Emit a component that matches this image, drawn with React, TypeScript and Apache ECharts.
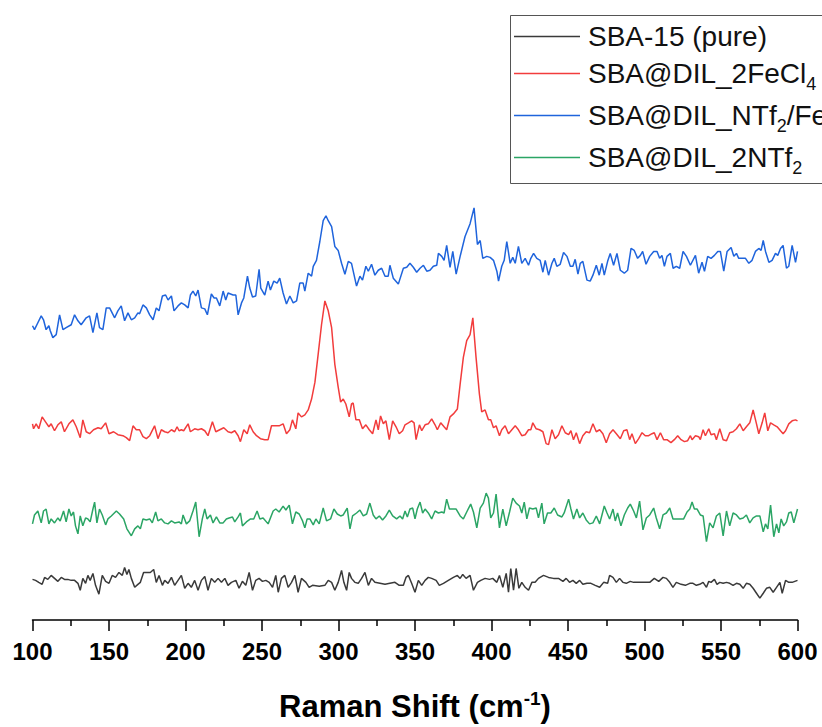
import React, { useEffect, useRef } from "react";
import * as echarts from "echarts";

const FONT = "'Liberation Sans', Arial, Helvetica, sans-serif";

const seriesNames = ["SBA-15 (pure)", "SBA@DIL_2FeCl4", "SBA@DIL_NTf2/FeCl4", "SBA@DIL_2NTf2"];
const legendLabels = [
  "{n|SBA-15 (pure)}",
  "{n|SBA@DIL_2FeCl}{s|4}",
  "{n|SBA@DIL_NTf}{s|2}{n|/FeCl}{s|4}",
  "{n|SBA@DIL_2NTf}{s|2}",
];
const seriesColors = ["#3a3a3a", "#f23c3c", "#1f64dc", "#2ba565"];

const xTicks = { min: 100, max: 600, step: 50 };

// Raman intensities (arbitrary units, stacked offsets) : [shift cm-1, intensity]
const pureSBA: number[][] = [
  [100,41],[102,40],[104.1,38],[106.3,36],[107.9,43],[110,41],[112.2,45],[114.4,42],[116.6,39],[118.8,43],[120.9,41],[123.1,41],[125.3,40],[127.5,40],[129.7,37],[131.2,30],[132.9,42],[134.7,37],[136.2,45],[137.7,40],[139.5,47],[141.2,35],[143.4,26],[145.6,45],[147.8,39],[150,37],[152.1,45],[154.3,43],[156.5,48],[158.7,45],[160.2,53],[161.7,46],[163,51],[164.6,42],[166.8,33],[168.9,36],[170.5,38],[172.6,48],[174.8,48],[177,48],[179.2,51],[180.9,38],[182.7,45],[184.9,35],[186.4,40],[188.6,37],[190.8,43],[192.9,35],[195.1,40],[197.3,45],[199.5,32],[201.7,37],[203.8,33],[206,40],[208.2,30],[210.4,40],[212.6,44],[214.7,30],[216.9,42],[219.1,38],[221.3,42],[223.5,38],[225.7,42],[227.8,35],[230,38],[232.9,40],[235,32],[237.2,39],[239.4,35],[241.6,48],[243.8,30],[245.9,40],[248.1,42],[250.3,39],[252.5,40],[254.7,38],[256.9,33],[259,45],[260.6,28],[262.7,42],[264.9,45],[267.1,33],[269.3,38],[271.5,45],[273.6,28],[275.8,42],[278.7,38],[280.8,33],[283,35],[287.4,34],[291.1,35],[293.3,40],[295.5,38],[297.6,30],[299.8,38],[302,50],[303.5,38],[305.3,30],[307,48],[308.5,42],[310.7,38],[312.9,37],[315.1,42],[317.3,48],[319.5,35],[321.6,42],[323.8,38],[327.1,37],[330.4,36],[333.6,37],[336.9,38],[339.7,35],
  [342.4,35],[344.1,43],[345.7,45],[347.8,37],[350,28],[352.2,40],[354.4,35],[356.6,40],[358.7,43],[360.9,42],[363.8,40],[365.9,35],[368.6,37],[371.8,40],[375.1,43],[377.7,45],[379.5,42],[381.2,46],[383.4,42],[386,45],[388.2,30],[390.8,38],[393,40],[395.8,42],[398.7,41],[400.8,42],[403.5,38],[405.2,45],[407.4,33],[409.6,47],[411.1,28],[412.6,52],[414.4,30],[416.1,52],[417.9,32],[419.8,38],[422,33],[424.2,30],[426.4,38],[428.5,38],[430.7,42],[434,45],[437.3,43],[440.5,42],[443.8,42],[446.7,39],[448.8,42],[451,38],[453.2,40],[455.4,37],[457.6,40],[459.7,36],[462.4,37],[465,37],[467.8,35],[470.7,33],[473.3,38],[475.9,37],[477.2,45],[479.4,43],[481.6,38],[483.7,42],[485.9,38],[488.1,37],[490.7,39],[492.9,38],[495.5,38],[497.7,38],[500.5,38],[503.4,38],[506.4,42],[509.3,39],[512.1,43],[514.3,42],[516.5,38],[518.6,33],[520.8,38],[523.9,36],[526.7,35],[529.6,37],[531.7,37],[533.9,35],[536.1,36],[538.3,38],[540.5,33],[542,39],[543.5,38],[545.7,41],[547.4,36],[549.2,38],[551.4,37],[553.6,38],[555.7,37],[557.9,35],[560.1,37],[562.3,36],[564.5,32],[566.6,37],[568.8,36],[571,32],[573.2,27],[575.4,22],[577.6,27],[579.7,32],[581.9,33],[584.1,28],[586.3,33],[588.5,38],[590,27],[592.2,40],[594.3,38],[596.5,38],[600,40],
];

const dil2FeCl4: number[][] = [
  [100,198],[100.7,193],[102.4,198],[104.1,193],[106.3,205],[108.5,200],[110.7,195],[112.2,198],[114.4,191],[116.6,197],[118.8,200],[120.9,190],[123.8,198],[126.4,202],[128.6,195],[131.2,184],[132.9,202],[135.1,190],[137.3,188],[139.9,192],[142.8,194],[144.9,193],[147.8,199],[150,188],[153,190],[155.8,187],[159.1,186],[161.3,184],[163.5,181],[165.7,196],[167.8,192],[170,192],[172.2,185],[174.4,183],[176.6,186],[179.8,196],[182,183],[184.2,192],[186.4,190],[188.6,189],[190.8,192],[192.9,190],[194.5,195],[195.8,191],[197.3,192],[198.8,191],[201.7,198],[203.2,190],[206,193],[208.2,192],[210.4,193],[212.6,191],[214.7,186],[217.6,200],[219.8,190],[222.4,192],[225,194],[227.8,190],[230,189],[232.2,191],[234.4,186],[235.9,180],[238.1,192],[240.3,188],[242,197],[244.2,190],[246.4,186],[249,183],[251.8,182],[254,182],[256.2,196],[258.4,196],[261.2,196],[263.8,198],[266,188],[268.2,192],[269.9,202],[272.1,193],[273.6,209],[275.8,205],[278,207],[280.2,212],[282.4,223],[284.6,240],[286.7,268],[288.9,298],[291.1,322],[293.3,312],[295.5,295],[297.6,258],[299.8,235],[301.4,220],[303.1,223],[304.8,218],[307,205],[308.5,218],[309.6,219],[311.4,202],[313.6,202],[315.7,193],[317.9,197],[320.1,192],[322.3,188],[324.5,202],[326,192],[327.5,206],[329.3,198],[331,201],[333.2,182],[335.4,201],[337.6,195],[339.7,188],
  [341.9,191],[343.5,197],[345.7,199],[347.8,201],[349.4,199],[350.7,182],[352.9,197],[354.4,191],[356.6,197],[358.7,198],[360.9,203],[363.1,197],[364.6,192],[366.8,199],[369,195],[370.7,192],[372.9,205],[375.1,208],[377.7,213],[379.5,238],[381.6,265],[383.8,282],[386,288],[387.8,305],[389.9,265],[392.1,228],[393.6,210],[395.8,212],[398,202],[399.5,202],[401.3,194],[403,196],[405.2,186],[406.7,192],[408.9,196],[411.1,188],[413.3,192],[415.5,196],[417.6,192],[419.8,186],[422,187],[424.2,192],[425.7,192],[427,199],[429.2,193],[431.4,192],[433.6,190],[435.7,178],[437.3,177],[439.5,192],[441.6,183],[443.8,187],[446,196],[448.2,189],[450.4,187],[451.9,191],[453.6,182],[455.4,189],[457.6,178],[459.7,186],[461.9,190],[464.1,189],[466.3,198],[468.5,190],[470.7,192],[472.8,188],[475,179],[477.2,188],[479.4,192],[481.6,188],[484.2,183],[486.4,191],[488.5,192],[490.3,182],[491.8,188],[494,178],[496.2,183],[498.4,189],[500.5,186],[502.7,186],[504.9,188],[506.4,189],[508.2,182],[510.4,189],[512.5,182],[514.7,182],[517.3,179],[519.5,182],[521.7,186],[523.9,182],[526.1,180],[528.2,181],[530,186],[531.1,182],[533.3,186],[535.4,185],[536.5,182],[538.3,192],[539.8,186],[542,193],[543.5,187],[545.7,188],[547,182],[549.2,193],[551.4,182],[553.6,181],[555.7,189],[557.9,190],[560.1,193],[562.3,198],[564.5,191],[566.6,195],[568.8,199],[571,212],[573.2,198],[574.7,188],[576.9,199],[578.6,209],[580.6,191],[582.4,199],[584.5,197],[586.7,195],[588.9,191],[590.6,188],[592.2,191],[594.3,198],[596.5,201],[598.7,202],[600,201],
];

const dilNTf2FeCl4: number[][] = [
  [100,297],[101.3,293],[103.5,300],[105.7,307],[107.2,303],[108.9,293],[110.7,297],[111.6,292],[113.3,285],[115.5,288],[117.7,308],[119.9,293],[122,295],[125.3,298],[127.5,308],[129.7,302],[131.8,298],[135.1,305],[137.3,307],[139.5,290],[142.1,310],[143.8,295],[146,293],[148.2,315],[150.4,315],[153.7,305],[155.8,312],[158,317],[160.2,302],[162.4,310],[164.6,303],[166.8,305],[168.9,310],[170,309],[172.2,318],[174.4,315],[176.6,308],[178.8,303],[180.9,315],[182.7,312],[184.9,327],[187,328],[188.6,323],[190.8,327],[192.5,312],[195.1,317],[197.3,320],[199.5,318],[201.7,315],[203.2,328],[204.9,332],[206.7,327],[208.2,333],[210.4,315],[212.6,314],[214.3,308],[216.9,329],[218.7,325],[220.2,325],[222.4,317],[224.6,332],[226.3,323],[227.8,330],[231.1,328],[232.9,328],[234.4,308],[236.6,320],[238.1,325],[240.5,347],[242,335],[243.8,326],[245.9,327],[248.1,354],[249.2,335],[251.8,328],[254,342],[255.5,333],[257.7,342],[259.9,340],[261.6,345],[263.8,330],[266,319],[268.2,327],[270.4,320],[272.6,322],[274.7,340],[276.9,340],[278,332],[280.2,350],[282.4,347],[283.5,357],[285.6,363],[287.8,382],[290,403],[291.8,408],[293.3,403],[295.5,397],[297.6,377],[299.8,373],[302,360],[304.2,349],[306.4,362],[308.5,360],[311.8,337],[314,347],[315.7,343],[317.9,357],[319.5,352],[321.6,359],[323.8,348],[326,353],[328.2,355],[330.4,347],[332.5,347],[333.6,358],[335.8,345],[339.1,339],
  [342.4,355],[344.6,356],[346.7,360],[348.9,356],[351.1,351],[353.3,355],[355.5,358],[357.7,352],[359.8,353],[362,357],[364.2,358],[365.3,370],[367.5,367],[369,363],[370.7,378],[372.9,356],[374.7,372],[376.9,349],[379.5,367],[382.7,387],[386,400],[388.6,416],[390.8,379],[392.6,383],[394.3,365],[396.9,367],[399.1,366],[401.3,363],[403.5,352],[404.6,342],[406.7,357],[408.3,363],[410,382],[412.2,360],[413.9,366],[415.5,360],[417.6,377],[419.8,360],[422,365],[424.2,358],[425.7,365],[427.5,370],[429.6,365],[431.8,363],[433.6,351],[435.1,363],[437.3,348],[439.5,360],[441,365],[442.7,357],[444.9,359],[447.1,371],[449.3,367],[451.5,357],[453.2,357],[454.7,364],[456.5,349],[458,360],[459.7,362],[462.4,343],[464.5,342],[466.3,348],[468.5,358],[470.4,348],[472.2,360],[473.7,348],[475.9,362],[477.6,370],[479.8,358],[482,370],[484.2,353],[486.8,350],[489,353],[491.2,375],[493.3,373],[495.5,365],[497.3,368],[498.8,372],[501,359],[503.4,367],[506,372],[508.2,372],[509.9,365],[511.4,368],[513,357],[514.7,367],[516.9,370],[518.7,355],[520.8,357],[523,355],[525.2,372],[527.4,367],[530,358],[533.3,368],[535.4,350],[537.6,361],[539.2,352],[541.3,367],[543.5,365],[545.7,368],[547.9,372],[549.6,372],[551.8,352],[554,372],[556.6,376],[558.4,367],[560.1,370],[561.6,365],[563.8,365],[566,365],[568.2,360],[570.3,363],[572.5,372],[574.7,375],[576.2,373],[577.6,383],[579.1,372],[581.3,361],[583.4,363],[585.6,370],[587.1,368],[588.9,375],[590.6,378],[592.8,355],[594.3,357],[596.5,378],[598.7,361],[600,372],
];

const dil2NTf2: number[][] = [
  [100,97],[101.3,106],[103.5,110],[105.7,98],[107.2,110],[108.9,112],[110.7,97],[112.2,102],[114.4,98],[116.6,103],[118.1,100],[120.3,110],[122,99],[123.8,112],[125.3,105],[126.8,109],[128.1,95],[129.7,87],[131.2,105],[132.9,95],[134.7,103],[136.2,102],[137.7,99],[139.5,112],[140.6,119],[142.1,98],[143.8,112],[145.6,106],[147.8,96],[149.3,102],[151.5,105],[154.8,110],[156.9,107],[159.6,102],[161.7,92],[164.6,85],[166.8,92],[168.9,95],[170.5,92],[172.2,102],[174.4,101],[176.6,102],[178.3,98],[180.5,109],[182,100],[184.2,102],[186.4,98],[188.6,97],[190.8,100],[192.9,98],[195.8,99],[197.3,97],[198.4,106],[200.6,97],[202.7,100],[204.9,110],[206.7,119],[208.9,84],[211,102],[212.6,112],[214.1,102],[216.3,106],[218,98],[220.2,104],[222.4,98],[224.6,98],[226.7,102],[228.5,103],[230.7,104],[232.2,99],[234.4,104],[235.9,108],[237.2,95],[239.8,99],[242.5,102],[244.6,102],[246.8,110],[248.6,102],[250.7,103],[254,97],[257.3,110],[259,112],[261.2,109],[263.8,115],[265.6,111],[267.8,116],[269.9,97],[272.1,109],[274.3,107],[276.5,100],[278,93],[279.5,102],[281.3,102],[283.5,96],[285.2,102],[287.4,97],[290,113],[292.2,100],[294.8,102],[297,112],[299.2,107],[301.4,105],[303.1,106],[305.7,113],[307.5,92],[309.2,105],[311.8,108],[314,111],[316.2,105],[318.4,107],[320.5,118],[322.7,106],[324.5,102],[326.7,105],[328.8,101],[331,105],[333.2,111],[335.4,105],[338,102],
  [340.2,105],[341.9,102],[343.5,110],[345,104],[346.7,112],[348.5,113],[350,102],[351.5,112],[353.3,119],[355,108],[356.6,112],[358.7,108],[360.9,102],[363.1,110],[365.3,108],[367.5,109],[369,108],[370.7,122],[372.5,112],[374.7,112],[376.9,112],[379.5,105],[381.6,102],[383.8,109],[386.4,117],[388.2,109],[390.4,93],[392.6,113],[394.7,118],[396.5,128],[398,123],[399.5,103],[401.3,108],[403,127],[405.2,93],[407.4,112],[409.6,95],[411.8,109],[413.9,123],[416.1,118],[418.3,115],[419.8,108],[421.4,119],[423.1,102],[424.8,113],[427,112],[429.2,113],[430.7,103],[432.9,118],[434.4,97],[436.6,108],[438.8,108],[441,113],[443.2,106],[446,104],[447.5,108],[450.4,122],[451.9,112],[453.6,102],[455.8,112],[457.6,103],[459.7,108],[461.9,101],[464.1,97],[466.3,98],[468.5,105],[470.7,97],[472.2,106],[473.7,115],[475.5,108],[477.2,102],[479.4,112],[480.9,100],[482.4,108],[484.6,95],[486.8,106],[489,113],[490.7,117],[492.9,110],[494.7,103],[496.8,120],[499,91],[501.2,103],[503.4,106],[506,113],[507.7,103],[509.9,92],[512.1,106],[514.3,108],[516.5,113],[518.6,102],[520.8,102],[523.4,102],[525.6,102],[527.8,109],[529.6,112],[531.1,119],[532.6,112],[534.4,112],[536.5,106],[538.3,105],[540.5,79],[542.6,98],[544.8,93],[547,105],[549.2,108],[551.4,85],[553.6,110],[555.7,95],[557.9,108],[560.1,106],[562.3,102],[564.5,103],[566.6,106],[568.8,98],[571,103],[573.2,105],[575.4,105],[577.6,89],[579.1,97],[580.6,92],[582.4,116],[584.5,84],[586.3,97],[587.8,88],[589.3,102],[591,95],[592.8,99],[594.3,108],[595.9,109],[597.6,98],[600,112],
];

const seriesData = [pureSBA, dil2FeCl4, dilNTf2FeCl4, dil2NTf2];

export default function App() {
  const ref = useRef<HTMLDivElement>(null);

  useEffect(() => {
    if (!ref.current) return;
    const chart = echarts.init(ref.current, null, { renderer: "svg" });
    const labelMap: Record<string, string> = {};
    seriesNames.forEach((n, i) => (labelMap[n] = legendLabels[i]));

    chart.setOption({
      animation: false,
      backgroundColor: "#ffffff",
      grid: { left: 32.5, right: 24.5, top: 25.5, bottom: 101.5 },
      legend: {
        orient: "vertical",
        left: 510.5,
        top: 15.5,
        padding: [7, 20, 7, 3.5],
        itemGap: 4,
        itemWidth: 66,
        itemHeight: 1.5,
        icon: "rect",
        borderColor: "#555555",
        borderWidth: 1,
        borderRadius: 0,
        data: seriesNames,
        formatter: (name: string) => labelMap[name] || name,
        textStyle: {
          padding: [0, 0, 0, 3],
          rich: {
            n: { fontSize: 28, lineHeight: 28, fontFamily: FONT, color: "#111111" },
            s: { fontSize: 18, lineHeight: 18, fontFamily: FONT, color: "#111111", padding: [20, 0, 0, 0] },
          },
        },
      },
      xAxis: {
        type: "value",
        min: xTicks.min,
        max: xTicks.max,
        interval: xTicks.step,
        axisLine: { show: true, onZero: false, lineStyle: { color: "#000000", width: 1.5 } },
        axisTick: { show: true, length: 11, lineStyle: { color: "#000000", width: 1.5 } },
        minorTick: { show: true, splitNumber: 2, length: 6, lineStyle: { color: "#000000", width: 1.5 } },
        splitLine: { show: false },
        axisLabel: { fontSize: 24, fontWeight: "bold", color: "#000000", fontFamily: FONT, margin: 19 },
        name: "{a|Raman Shift (cm}{b|-1}{a|)}",
        nameLocation: "middle",
        nameGap: 69,
        nameTextStyle: {
          rich: {
            a: { fontSize: 31, fontWeight: "bold", fontFamily: FONT, color: "#000000" },
            b: { fontSize: 19, fontWeight: "bold", fontFamily: FONT, color: "#000000", padding: [0, 0, 16, 0] },
          },
        },
      },
      yAxis: { type: "value", min: 0, max: 600, show: false },
      series: seriesNames.map((name, i) => ({
        name,
        type: "line",
        data: seriesData[i],
        symbol: "none",
        showSymbol: false,
        lineStyle: { color: seriesColors[i], width: 1.5 },
        itemStyle: { color: seriesColors[i] },
      })),
    });
    return () => chart.dispose();
  }, []);

  return (
    <div
      ref={ref}
      style={{ position: "fixed", left: 0, top: 0, width: 822, height: 727, background: "#fff" }}
    />
  );
}
